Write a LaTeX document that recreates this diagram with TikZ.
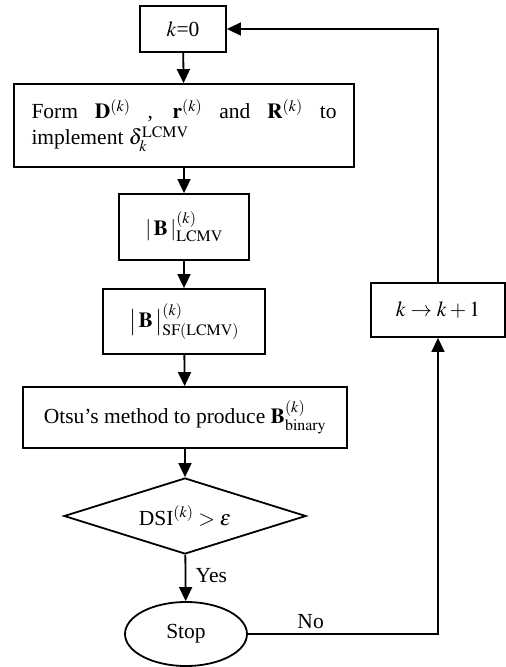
\documentclass[tikz,border=0pt]{standalone}
\usepackage{mathptmx}
\usepackage{fontspec}
\setmainfont{Liberation Serif}
\usetikzlibrary{shapes.geometric,arrows.meta}
\begin{document}
\begin{tikzpicture}[x=1pt,y=-1pt,
  every node/.style={font=\fontsize{21.5}{26}\selectfont},
  box/.style={draw,line width=1.8pt,rectangle,inner sep=0pt},
  flow/.style={line width=1.8pt,-{Triangle[length=14pt,width=13pt]}},
  loop/.style={line width=1.5pt,-{Triangle[length=14pt,width=13pt]}}]
\useasboundingbox (0,0) rectangle (506,667);
\node[box,minimum width=86pt,minimum height=46pt] (k0) at (183,29) {$k$=0};
\node[box,minimum width=340pt,minimum height=83pt] (form) at (184,125.5) {%
  \parbox{305pt}{\fontsize{21.5}{26}\selectfont Form $\mathbf{D}^{(k)}$ , $\mathbf{r}^{(k)}$ and $\mathbf{R}^{(k)}$ to\linebreak
  implement $\delta_k^{\mathrm{LCMV}}$}};
\node[box,minimum width=130pt,minimum height=66pt] (lcmv) at (184,227) {$|\,\mathbf{B}\,|^{(k)}_{\mathrm{LCMV}}$};
\node[box,minimum width=162pt,minimum height=65pt] (sf) at (184,321.5) {$\bigl|\,\mathbf{B}\,\bigr|^{(k)}_{\mathrm{SF(LCMV)}}$};
\node[box,minimum width=324pt,minimum height=61pt] (otsu) at (185,417.5) {Otsu’s method to produce $\mathbf{B}^{(k)}_{\mathrm{binary}}$};
\node[draw,line width=1.8pt,diamond,aspect=3.18,minimum width=242pt,minimum height=76pt,inner sep=0pt] (dsi) at (185,516) {DSI$^{(k)}>\varepsilon$};
\node[draw,line width=1.8pt,ellipse,minimum width=122pt,minimum height=64pt,inner sep=0pt] (stop) at (186,634) {Stop};
\node[box,minimum width=134pt,minimum height=54pt] (inc) at (438,310) {$k\to k+1$};
\draw[flow] (k0) -- (form);
\draw[flow] (form) -- (lcmv);
\draw[flow] (lcmv) -- (sf);
\draw[flow] (sf) -- (otsu);
\draw[flow] (otsu) -- (dsi);
\draw[flow] (dsi) -- node[right=6pt,pos=0.45] {Yes} (stop);
\coordinate (c1) at (inc.south |- stop.east);
\draw[loop] (stop.east) -- node[above=1pt,pos=0.33] {No} (c1) -- (inc.south);
\coordinate (c2) at (inc.north |- k0.east);
\draw[loop] (inc.north) -- (c2) -- (k0.east);
\end{tikzpicture}
\end{document}
